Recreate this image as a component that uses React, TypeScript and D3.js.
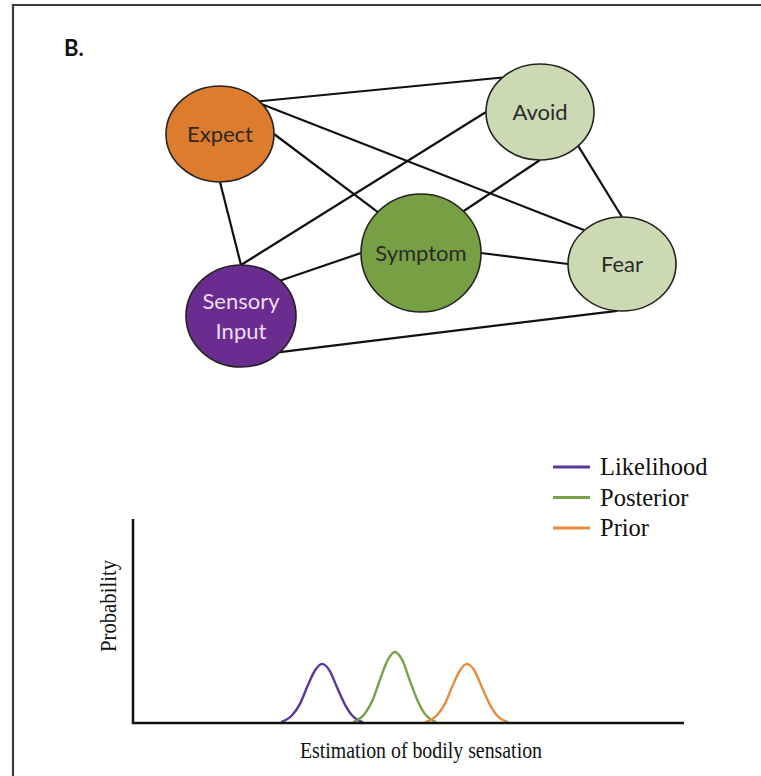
import React from "react";
import * as d3 from "d3";

// network nodes (centre, radii in px) and colours
const nodeNames = ["Expect", "Avoid", "Symptom", "Fear", "Sensory Input"];
const nodeCx = [220, 540, 421, 622, 241];
const nodeCy = [134, 112, 253, 264, 316];
const nodeRx = [54, 54, 60, 54, 55];
const nodeRy = [48, 48, 59, 47, 51];
const nodeFill = ["#de7c2e", "#cbdab3", "#77a045", "#cbdab3", "#6a2d8f"];
const nodeText = ["#2a2a2a", "#2a2a2a", "#2a2a2a", "#2a2a2a", "#eadff2"];

// edges: [from, to, angle on from ellipse, angle on to ellipse] (degrees)
const edges: [number, number, number, number][] = [
  [0, 1, -43, -134],
  [0, 3, -38, -134],
  [0, 2, 0, -136],
  [0, 4, 90, -90],
  [1, 4, 180, -90],
  [1, 2, 90, -45],
  [1, 3, 45, -90],
  [2, 3, 0, 180],
  [2, 4, 180, -44],
  [4, 3, 45, 95],
];

// density curves
const likelihoodX = [2.69, 2.89, 3.03, 3.16, 3.3, 3.43, 3.57, 3.7, 3.84, 3.97, 4.17];
const likelihoodY = [0.004, 0.039, 0.094, 0.176, 0.256, 0.29, 0.256, 0.176, 0.094, 0.039, 0.004];
const posteriorX = [4.0, 4.21, 4.35, 4.48, 4.62, 4.75, 4.89, 5.02, 5.16, 5.29, 5.5];
const posteriorY = [0.004, 0.047, 0.113, 0.211, 0.307, 0.348, 0.307, 0.211, 0.113, 0.047, 0.004];
const priorX = [5.31, 5.52, 5.66, 5.79, 5.93, 6.06, 6.2, 6.33, 6.47, 6.6, 6.81];
const priorY = [0.004, 0.039, 0.094, 0.176, 0.256, 0.29, 0.256, 0.176, 0.094, 0.039, 0.004];

const seriesNames = ["Likelihood", "Posterior", "Prior"];
const seriesColors = ["#5a379a", "#77a24a", "#e58c3e"];

const rad = (a: number) => (a * Math.PI) / 180;
const anchor = (i: number, a: number): [number, number] => [
  nodeCx[i] + nodeRx[i] * Math.cos(rad(a)),
  nodeCy[i] + nodeRy[i] * Math.sin(rad(a)),
];

export default function App() {
  const width = 761;
  const height = 776;

  // bottom plot
  const x = d3.scaleLinear().domain([0, 10]).range([133, 684]);
  const y = d3.scaleLinear().domain([0, 1]).range([723, 519]);
  const line = d3
    .line<[number, number]>()
    .x((d) => x(d[0]))
    .y((d) => y(d[1]))
    .curve(d3.curveMonotoneX);

  const curves = [
    d3.zip(likelihoodX, likelihoodY),
    d3.zip(posteriorX, posteriorY),
    d3.zip(priorX, priorY),
  ] as [number, number][][];

  const serif = "'Liberation Serif', 'Times New Roman', serif";
  const sans = "Lato, 'Open Sans', sans-serif";

  return (
    <svg
      width={width}
      height={height}
      style={{ position: "absolute", left: 0, top: 0, background: "#fff" }}
    >
      {/* frame */}
      <path d={`M13,${height} V5 H${width}`} fill="none" stroke="#3c3c3c" strokeWidth={2.2} />

      <text x={64} y={56} fontFamily={sans} fontWeight={700} fontSize={22} fill="#111">
        B.
      </text>

      {/* edges */}
      {edges.map(([a, b, aa, ab], i) => {
        const p = anchor(a, aa);
        const q = anchor(b, ab);
        return (
          <line key={i} x1={p[0]} y1={p[1]} x2={q[0]} y2={q[1]} stroke="#111" strokeWidth={2.2} />
        );
      })}

      {/* nodes */}
      {nodeNames.map((n, i) => (
        <g key={n}>
          <ellipse
            cx={nodeCx[i]}
            cy={nodeCy[i]}
            rx={nodeRx[i]}
            ry={nodeRy[i]}
            fill={nodeFill[i]}
            stroke="#222"
            strokeWidth={1.6}
          />
          {n.split(" ").map((w, j, arr) => (
            <text
              key={w}
              x={nodeCx[i]}
              y={nodeCy[i] + (j - (arr.length - 1) / 2) * 30}
              dy="0.35em"
              textAnchor="middle"
              fontFamily={sans}
              fontSize={22}
              fill={nodeText[i]}
            >
              {w}
            </text>
          ))}
        </g>
      ))}

      {/* legend */}
      {seriesNames.map((s, i) => (
        <g key={s} transform={`translate(553, ${467 + i * 30.5})`}>
          <line x1={0} x2={37} y1={0} y2={0} stroke={seriesColors[i]} strokeWidth={3} />
          <text x={47} y={0} dy="0.33em" fontFamily={serif} fontSize={24.5} fill="#111">
            {s}
          </text>
        </g>
      ))}

      {/* curves */}
      {curves.map((c, i) => (
        <path key={i} d={line(c) ?? ""} fill="none" stroke={seriesColors[i]} strokeWidth={2.4} />
      ))}

      {/* axes */}
      <path
        d={`M${x(0)},${y(1)} V${y(0)} H${x(10)}`}
        fill="none"
        stroke="#111"
        strokeWidth={2.5}
      />
      <text
        x={300}
        y={758}
        textLength={242}
        lengthAdjust="spacingAndGlyphs"
        fontFamily={serif}
        fontSize={23}
        fill="#111"
      >
        Estimation of bodily sensation
      </text>
      <text
        transform={`translate(116, 652) rotate(-90)`}
        textLength={92}
        lengthAdjust="spacingAndGlyphs"
        fontFamily={serif}
        fontSize={23}
        fill="#111"
      >
        Probability
      </text>
    </svg>
  );
}
